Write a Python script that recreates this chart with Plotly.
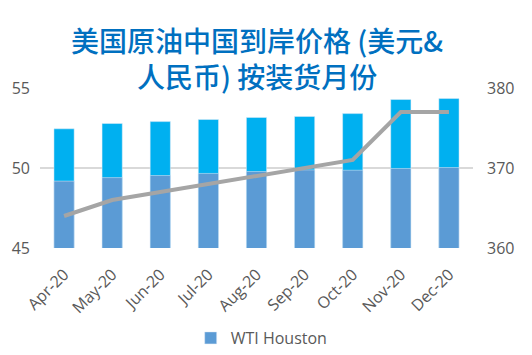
import plotly.graph_objects as go

months = ["Apr-20", "May-20", "Jun-20", "Jul-20", "Aug-20", "Sep-20", "Oct-20", "Nov-20", "Dec-20"]
wti_houston = [49.18, 49.40, 49.53, 49.66, 49.78, 49.88, 49.86, 49.97, 50.03]
cif_china = [52.45, 52.78, 52.90, 53.03, 53.16, 53.22, 53.40, 54.28, 54.34]
cif_rmb = [364, 366, 367, 368, 369, 370, 371, 377, 377]
title_text = "美国原油中国到岸价格 (美元&<br>人民币) 按装货月份"

fig = go.Figure()
fig.add_trace(go.Bar(x=months, y=cif_china, marker_color="#00B0F0", width=0.42,
                     name="CIF China", showlegend=False))
fig.add_trace(go.Bar(x=months, y=wti_houston, marker_color="#5B9BD5", width=0.42,
                     name="WTI Houston"))
fig.add_trace(go.Scatter(x=months, y=cif_rmb, yaxis="y2", mode="lines",
                         line=dict(color="#A5A5A5", width=4), name="RMB", showlegend=False))

fig.add_annotation(text=title_text, xref="paper", yref="paper", x=0.5, y=1.189,
                   xanchor="center", yanchor="middle", showarrow=False,
                   font=dict(size=28, color="#0070C0", family="Noto Sans CJK SC", weight=500))

fig.update_layout(
    width=524, height=347,
    barmode="overlay",
    plot_bgcolor="white", paper_bgcolor="white",
    margin=dict(l=32, r=59, t=80, b=107, autoexpand=False),
    font=dict(family="Open Sans, sans-serif", color="#595959"),
    xaxis=dict(tickangle=-45, tickfont=dict(size=16, color="#595959"), showgrid=False,
               showline=False, ticks="", automargin=False, ticklabelstandoff=13),
    yaxis=dict(range=[45, 55], tickvals=[45, 50, 55], showgrid=True, gridcolor="#D9D9D9",
               gridwidth=1.5, zeroline=False, tickfont=dict(size=16, color="#595959"), ticks="",
               automargin=False, ticklabelstandoff=9),
    yaxis2=dict(range=[360, 380], tickvals=[360, 370, 380], overlaying="y", side="right",
                showgrid=False, zeroline=False, tickfont=dict(size=16, color="#595959"), ticks="",
                automargin=False, ticklabelstandoff=13),
    legend=dict(orientation="h", x=0.512, xanchor="center", yref="container", y=0.049,
                yanchor="middle", font=dict(size=16, color="#595959")),
)

fig.write_html("out.html")
